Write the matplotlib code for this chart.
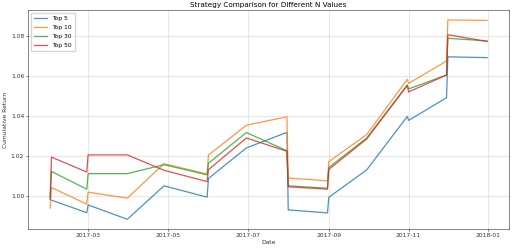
"""Strategy comparison chart for different top-N portfolios."""

import matplotlib
matplotlib.use('Agg')
import matplotlib.pyplot as plt
import pandas as pd

# Observation dates (month ends plus the first day after each rebalance jump)
dates = [
    "2017-01-31", "2017-02-01", "2017-02-28", "2017-03-01", "2017-03-31",
    "2017-04-28", "2017-05-31", "2017-06-01", "2017-06-30", "2017-07-31",
    "2017-08-01", "2017-08-31", "2017-09-01", "2017-09-30", "2017-10-31",
    "2017-11-01", "2017-11-30", "2017-12-01", "2017-12-31",
]

top5 = [0.9980, 0.9977, 0.9914, 0.9953, 0.9881, 1.0049, 0.9992, 1.0086,
        1.0239, 1.0317, 0.9928, 0.9913, 0.9991, 1.0129, 1.0397, 1.0377,
        1.0491, 1.0696, 1.0692]
top10 = [0.9937, 1.0040, 0.9957, 1.0017, 0.9987, 1.0160, 1.0108, 1.0203,
         1.0353, 1.0395, 1.0088, 1.0074, 1.0170, 1.0306, 1.0583, 1.0563,
         1.0675, 1.0881, 1.0879]
top30 = [0.9985, 1.0121, 1.0032, 1.0110, 1.0110, 1.0155, 1.0104, 1.0162,
         1.0316, 1.0225, 1.0049, 1.0037, 1.0141, 1.0289, 1.0554, 1.0535,
         1.0605, 1.0789, 1.0776]
top50 = [0.9985, 1.0193, 1.0118, 1.0204, 1.0204, 1.0127, 1.0070, 1.0130,
         1.0289, 1.0222, 1.0044, 1.0032, 1.0131, 1.0284, 1.0553, 1.0520,
         1.0605, 1.0807, 1.0773]

series = {"Top 5": top5, "Top 10": top10, "Top 30": top30, "Top 50": top50}

idx = pd.to_datetime(dates)

fig = plt.figure(figsize=(5.12, 2.5), dpi=100)
ax = fig.add_axes([0.0553, 0.083, 0.9387, 0.877])

for name, vals in series.items():
    ax.plot(idx, vals, linewidth=0.9, alpha=0.8, label=name)

ax.set_title("Strategy Comparison for Different N Values", fontsize=5.2, pad=2.5)
ax.set_xlabel("Date", fontsize=4.3, labelpad=1.5, color="#333333")
ax.set_ylabel("Cumulative Return", fontsize=4.3, labelpad=2, color="#333333")
ax.tick_params(labelsize=4.3, length=1.5, width=0.4, pad=1.5,
               labelcolor="#333333")
ax.grid(True, alpha=0.3, linewidth=0.8)
for sp in ax.spines.values():
    sp.set_linewidth(0.5)
    sp.set_color("#555555")
ax.legend(loc="upper left", fontsize=4.3, handlelength=2.2,
          borderpad=0.5, labelspacing=0.65, framealpha=0.8)

plt.savefig("out.png", dpi=100)
plt.close()
